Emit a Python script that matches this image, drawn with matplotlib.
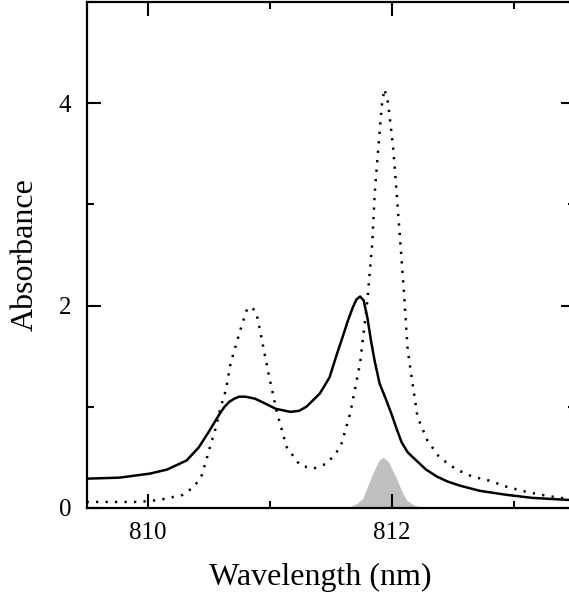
#!/usr/bin/env python3
"""
Absorption spectra around 812 nm: solid and dotted traces plus a shaded line profile.
"""
import matplotlib
matplotlib.use("Agg")
import matplotlib.pyplot as plt
from matplotlib.ticker import MultipleLocator

# Solid trace (wavelength nm, absorbance)
solid_wl = [809.50, 809.77, 810.02, 810.16, 810.32, 810.42, 810.51, 810.59, 810.63, 810.67,
            810.71, 810.75, 810.80, 810.88, 810.95, 811.05, 811.17, 811.24, 811.30, 811.41,
            811.49, 811.55, 811.60, 811.64, 811.68, 811.71, 811.74, 811.77, 811.80, 811.83,
            811.86, 811.90, 811.95, 812.00, 812.04, 812.08, 812.13, 812.20, 812.28, 812.37,
            812.46, 812.56, 812.72, 812.94, 813.15, 813.44, 813.50]
solid_abs = [0.29, 0.30, 0.34, 0.38, 0.47, 0.60, 0.77, 0.93, 1.00, 1.05,
             1.08, 1.10, 1.10, 1.08, 1.04, 0.98, 0.95, 0.96, 1.00, 1.13,
             1.29, 1.52, 1.70, 1.85, 1.98, 2.06, 2.09, 2.05, 1.88, 1.65,
             1.45, 1.23, 1.08, 0.92, 0.78, 0.65, 0.55, 0.47, 0.38, 0.31,
             0.26, 0.22, 0.17, 0.13, 0.10, 0.08, 0.08]

# Dotted trace
dotted_wl = [809.50, 809.93, 810.10, 810.29, 810.38, 810.44, 810.48, 810.52, 810.56, 810.60,
             810.64, 810.68, 810.76, 810.81, 810.85, 810.89, 810.92, 810.99, 811.06, 811.14,
             811.25, 811.36, 811.47, 811.58, 811.66, 811.74, 811.80, 811.84, 811.86, 811.89,
             811.92, 811.94, 811.97, 812.01, 812.04, 812.07, 812.10, 812.13, 812.17, 812.21,
             812.29, 812.39, 812.53, 812.66, 812.80, 812.94, 813.10, 813.27, 813.44, 813.50]
dotted_abs = [0.06, 0.06, 0.08, 0.13, 0.21, 0.31, 0.47, 0.64, 0.80, 1.00,
              1.16, 1.43, 1.76, 1.95, 1.99, 1.93, 1.76, 1.33, 0.94, 0.60,
              0.42, 0.39, 0.44, 0.60, 0.94, 1.43, 2.05, 2.62, 3.11, 3.57,
              4.00, 4.14, 4.00, 3.57, 3.11, 2.62, 2.12, 1.56, 1.23, 0.90,
              0.67, 0.50, 0.38, 0.31, 0.27, 0.21, 0.16, 0.12, 0.09, 0.08]

# Shaded line profile
shade_wl = [811.55, 811.66, 811.72, 811.76, 811.80, 811.85, 811.90, 811.93, 811.97, 812.04,
            812.08, 812.12, 812.18, 812.25, 812.35]
shade_abs = [0.0, 0.01, 0.05, 0.09, 0.21, 0.36, 0.48, 0.50, 0.46, 0.29,
             0.17, 0.08, 0.03, 0.005, 0.0]

x_ticks = [810, 812]
y_ticks = [0, 2, 4]

plt.rcParams['font.family'] = ['Liberation Serif', 'DejaVu Serif']

fig = plt.figure(figsize=(5.69, 5.98), dpi=100)
# right spine sits just past the image edge, like the original crop
ax = fig.add_axes([86.5 / 569, 1 - 508 / 598, 488.5 / 569, 506 / 598])

ax.fill_between(shade_wl, shade_abs, 0, color='#c0c0c0', linewidth=0, zorder=1)
ax.plot(dotted_wl, dotted_abs, color='black', linewidth=1.8,
        linestyle=(0, (0.9, 2.9)), zorder=2)
ax.plot(solid_wl, solid_abs, color='black', linewidth=1.8, zorder=3)

ax.set_xlim(809.5, 813.5)
ax.set_ylim(0, 5)
ax.set_xticks(x_ticks)
ax.set_yticks(y_ticks)
ax.xaxis.set_minor_locator(MultipleLocator(1))
ax.yaxis.set_minor_locator(MultipleLocator(1))

ax.tick_params(which='both', direction='in', top=True, right=True, width=1.5)
ax.tick_params(which='major', length=10)
ax.tick_params(which='minor', length=5)
ax.tick_params(axis='x', labelsize=18, pad=10)
ax.tick_params(axis='y', labelsize=18, pad=11)
for s in ax.spines.values():
    s.set_linewidth(1.6)

ax.set_xlabel('Wavelength (nm)', fontsize=23)
ax.xaxis.label.set_va('baseline')
ax.xaxis.set_label_coords((320 - 86.5) / 488.5, (508 - 585) / 506)
ax.set_ylabel('Absorbance', fontsize=23)
ax.yaxis.label.set_va('center')
ax.yaxis.set_label_coords((25 - 86.5) / 488.5, 0.5)

fig.savefig('out.png', dpi=100)
